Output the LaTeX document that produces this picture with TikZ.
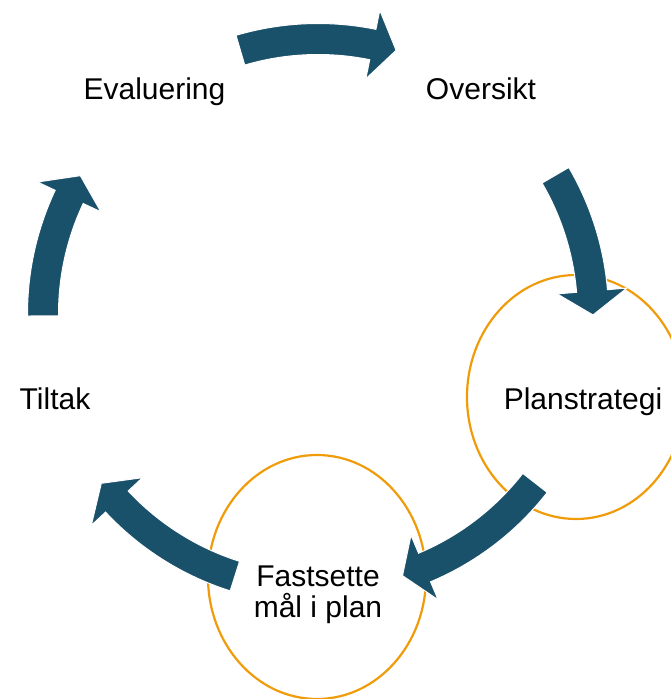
\documentclass[tikz,border=0pt]{standalone}
\usepackage{fontspec}
\setmainfont{Liberation Sans}
\definecolor{arrowteal}{RGB}{26,81,106}
\definecolor{ringorange}{RGB}{240,155,10}
\tikzset{
  cyclabel/.style={font=\fontsize{30}{31}\selectfont, text=black, inner sep=0pt, anchor=base, align=center},
  ring/.style={draw=ringorange, line width=2.2pt},
  arrowbody/.style={fill=arrowteal, draw=white, line width=1pt, line join=miter}
}
\newcommand\cycarrow[3]{%
  \filldraw[arrowbody]
    ([shift={(C)}]#1:290.5pt) arc[start angle=#1, end angle=#2, radius=290.5pt]
    -- ([shift={(C)}]#2:310pt)
    -- ([shift={(C)}]#3:275pt)
    -- ([shift={(C)}]#2:240pt)
    -- ([shift={(C)}]#2:259.5pt) arc[start angle=#2, end angle=#1, radius=259.5pt]
    -- cycle;}
\begin{document}
\begin{tikzpicture}[x=1pt,y=1pt]
\useasboundingbox (0,0) rectangle (671,699);
\coordinate (C) at (318,385);
% rings
\draw[ring] (576,302) ellipse[x radius=109, y radius=122];
\draw[ring] (317,122) ellipse[x radius=109, y radius=122];
% arrows
\cycarrow{106.4}{78.5}{73.5}
\cycarrow{30.3}{4.8}{-0.2}
\cycarrow{-37.9}{-67.2}{-72.1}
\cycarrow{-107.6}{-137}{-142}
\cycarrow{180.4}{154.8}{149.8}
% labels
\node[cyclabel] (oversikt) at (481,599) {Oversikt};
\node[cyclabel] (plan) at (583,289) {Planstrategi};
\node[cyclabel] (fast) at (318,81.5) {Fastsette\\mål i plan};
\node[cyclabel] (tiltak) at (55,289) {Tiltak};
\node[cyclabel] (eval) at (154.5,599) {Evaluering};
\end{tikzpicture}
\end{document}
